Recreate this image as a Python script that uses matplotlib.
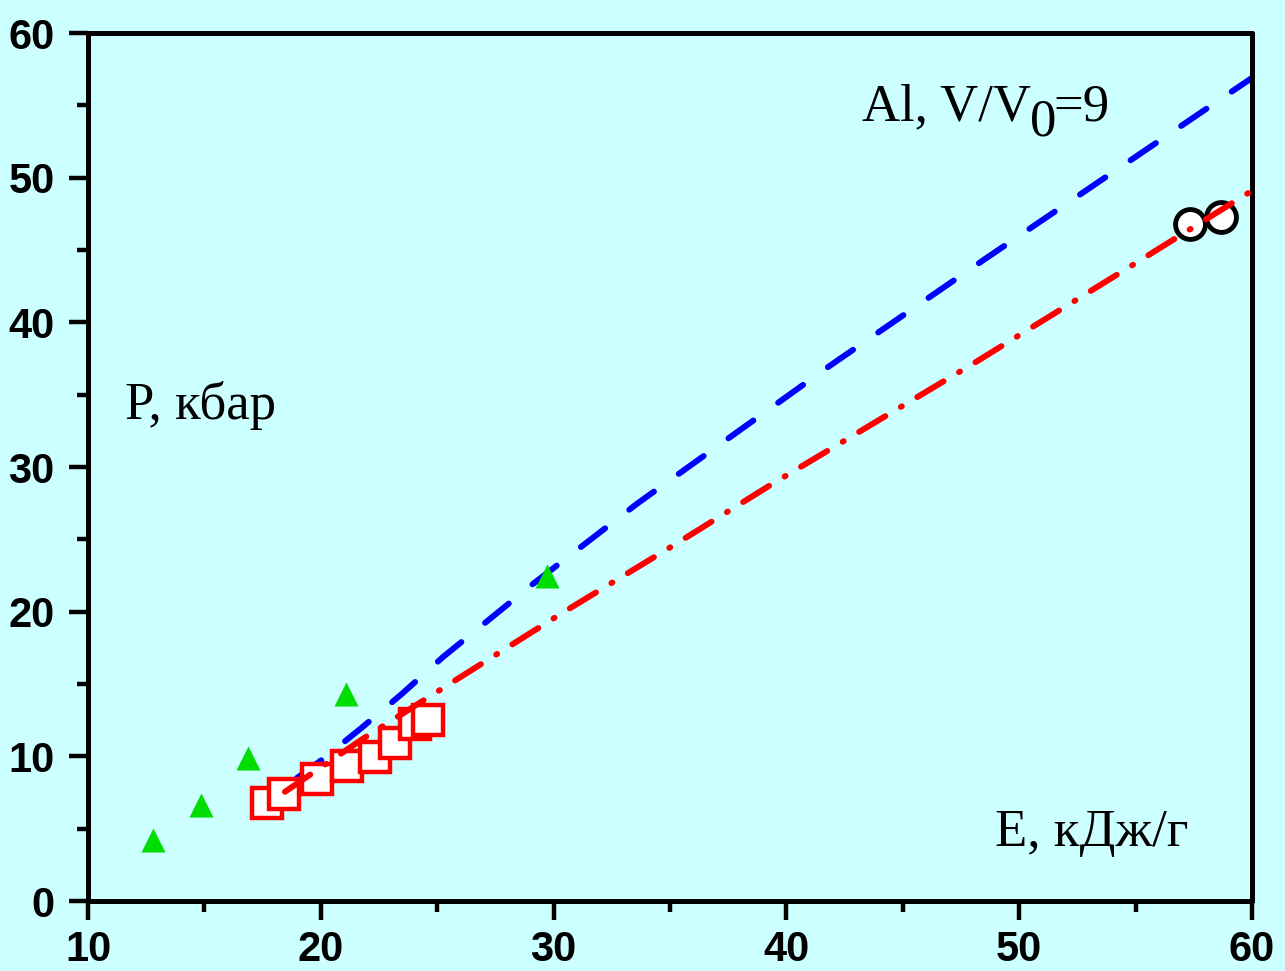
import matplotlib
matplotlib.use("Agg")
import matplotlib.pyplot as plt
from matplotlib.ticker import MultipleLocator

# ---- data ----
tri_E = [12.8, 14.85, 16.87, 21.08, 29.72]
tri_P = [4.2, 6.63, 9.86, 14.28, 22.46]

sq_E = [17.68, 18.43, 19.82, 21.14, 22.33, 23.19, 24.05, 24.62]
sq_P = [6.75, 7.39, 8.43, 9.35, 9.97, 10.9, 12.23, 12.5]

circ_E = [57.34, 58.67]
circ_P = [46.79, 47.27]

blue_E = [18.96, 20.03, 21.76, 23.47, 25.26, 29.1, 33.6, 41.84, 48.46, 60.0]
blue_P = [8.48, 9.74, 11.98, 14.3, 16.88, 21.9, 27.48, 36.97, 44.3, 56.9]

red_E = [18.46, 21.83, 25.34, 30.34, 35.28, 39.3, 45.16, 48.03, 54.97, 60.0]
red_P = [7.55, 11.24, 14.81, 19.88, 24.71, 28.74, 34.39, 37.15, 44.06, 49.1]

xticks = [10, 20, 30, 40, 50, 60]
yticks = [0, 10, 20, 30, 40, 50, 60]

# ---- style ----
plt.rcParams['lines.scale_dashes'] = False
bg = '#CCFFFF'

fig = plt.figure(figsize=(12.85, 9.71), dpi=100, facecolor=bg)
ax = fig.add_axes([88/1285, 1 - 901/971, (1252-88)/1285, (901-33)/971])
ax.set_facecolor(bg)

ax.plot(blue_E, blue_P, color='#0000FF', lw=4.3, dashes=(22, 22),
        dash_capstyle='round', solid_capstyle='round', zorder=2)
ax.plot(tri_E, tri_P, ls='none', marker='^', ms=17, mfc='#00DD00',
        mec='none', zorder=3)
ax.plot(sq_E, sq_P, ls='none', marker='s', ms=21, mfc='white',
        mec='#FF0000', mew=3.2, zorder=4)
ax.plot(circ_E, circ_P, ls='none', marker='o', ms=21.5, mfc='white',
        mec='black', mew=3.5, zorder=4)
ax.plot(red_E, red_P, color='#FF0000', lw=4.3, dashes=(22, 13, 0.8, 13),
        dash_capstyle='round', solid_capstyle='round', zorder=5)

ax.set_xlim(10, 60)
ax.set_ylim(0, 60)
ax.set_xticks(xticks)
ax.set_yticks(yticks)
ax.xaxis.set_minor_locator(MultipleLocator(5))
ax.yaxis.set_minor_locator(MultipleLocator(5))

for s in ax.spines.values():
    s.set_linewidth(3.6)
    s.set_capstyle('round')

ax.tick_params(which='major', direction='out', length=14, width=3.2,
               top=False, right=False, labelsize=30)
ax.tick_params(which='minor', direction='out', length=8, width=3.2,
               top=False, right=False)
ax.tick_params(axis='x', which='major', pad=7)
ax.tick_params(axis='y', which='major', pad=10)
for lbl in ax.get_xticklabels() + ax.get_yticklabels():
    lbl.set_fontfamily('Liberation Sans')
    lbl.set_fontweight('bold')

serif = dict(family='Liberation Serif', fontsize=38, color='black', va='baseline')
ax.text(11.59, 33.3, 'P, кбар', **serif)
ax.text(48.96, 3.8, 'E, кДж/г', **serif)
ax.text(43.23, 53.97, 'Al, V/V', **serif)
ax.text(50.48, 52.94, '0', **serif)
ax.text(51.45, 53.97, '=9', **serif)

fig.savefig('out.png', dpi=100, facecolor=bg)
